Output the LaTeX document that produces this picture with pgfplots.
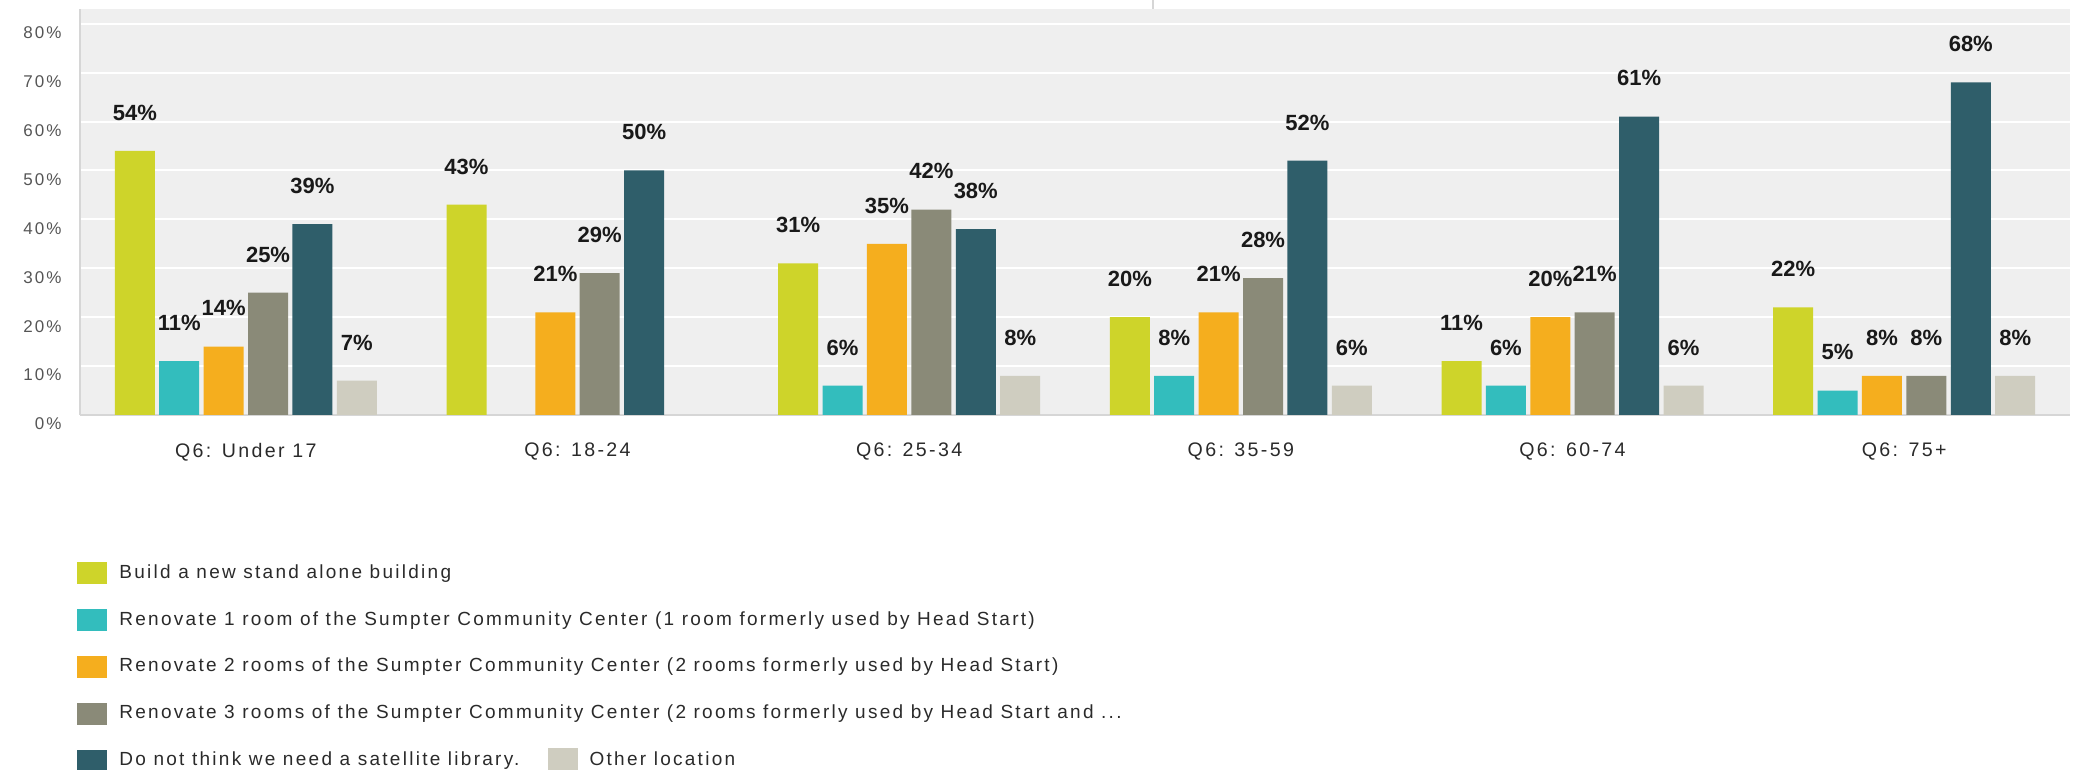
\documentclass[border=0pt]{standalone}
\usepackage{pgfplots}
\pgfplotsset{compat=1.18}
\usepackage{fontspec}
\setmainfont{Liberation Sans}
\newfontfamily\spacedfont[LetterSpace=12]{Liberation Sans}
\definecolor{cyel}{HTML}{CED42A}
\definecolor{cteal}{HTML}{33BDBD}
\definecolor{corange}{HTML}{F5AE1E}
\definecolor{cgray}{HTML}{8A8A78}
\definecolor{cdark}{HTML}{2F5E6A}
\definecolor{cother}{HTML}{CFCDC0}
\definecolor{bgc}{HTML}{EFEFEF}
\definecolor{axc}{HTML}{D6D6D6}
\definecolor{tickc}{HTML}{555555}
\definecolor{txtc}{HTML}{2A2A2A}
\begin{document}
\begin{tikzpicture}
\useasboundingbox (0,0) rectangle (1038pt,-385pt);
\draw[axc, line width=1pt] (576.5pt,0) -- (576.5pt,-4.5pt);
\begin{axis}[
  at={(40pt,-4.5pt)}, anchor=north west,
  scale only axis, width=995pt, height=203pt,
  xmin=-0.5, xmax=5.5, ymin=0, ymax=83,
  ybar=2.2pt, bar width=20pt,
  /pgf/number format/assume math mode=true,
  axis background/.style={fill=bgc},
  axis lines*=left,
  axis line style={draw=axc, line width=1pt},
  ymajorgrids, grid style={white, line width=1pt},
  major tick length=0pt,
  xtick={0,1,2,3,4,5},
  xticklabels={Q6: Under 17, Q6: 18-24, Q6: 25-34, Q6: 35-59, Q6: 60-74, Q6: 75+},
  xticklabel style={anchor=center, inner sep=0pt, yshift=-18.5pt, font=\spacedfont\fontsize{9.8}{11}\selectfont, text=txtc},
  ytick={0,10,20,30,40,50,60,70,80},
  yticklabels={0\%,10\%,20\%,30\%,40\%,50\%,60\%,70\%,80\%},
  yticklabel style={anchor=east, inner sep=0pt, xshift=-9pt, yshift=-4.5pt, font=\spacedfont\fontsize{8.5}{10}\selectfont, text=tickc},
  nodes near coords={\pgfmathprintnumber{\pgfplotspointmeta}\%},
  every node near coord/.append style={font=\bfseries\fontsize{11}{13}\selectfont, text=black!90, anchor=south, inner sep=0pt, yshift=15pt},
  legend cell align=left,
  legend image code/.code={\fill[#1] (0pt,-5.5pt) rectangle (15pt,5.5pt);},
  legend style={at={(0,0)}, anchor=north west, xshift=-1.5pt, yshift=-73.5pt,
    draw=none, fill=none, inner sep=0pt, row sep=12.4pt,
    nodes={inner sep=0pt, text height=7pt, text depth=2pt, font=\spacedfont\fontsize{9.5}{11}\selectfont, text=txtc},
    /tikz/every odd column/.append style={column sep=6pt}},
]
\addplot[fill=cyel, draw=none] coordinates {(0,54) (1,43) (2,31) (3,20) (4,11) (5,22)};
\addlegendentry{Build a new stand alone building}
\addplot[fill=cteal, draw=none] coordinates {(0,11) (2,6) (3,8) (4,6) (5,5)};
\addlegendentry{Renovate 1 room of the Sumpter Community Center (1 room formerly used by Head Start)}
\addplot[fill=corange, draw=none] coordinates {(0,14) (1,21) (2,35) (3,21) (4,20) (5,8)};
\addlegendentry{Renovate 2 rooms of the Sumpter Community Center (2 rooms formerly used by Head Start)}
\addplot[fill=cgray, draw=none] coordinates {(0,25) (1,29) (2,42) (3,28) (4,21) (5,8)};
\addlegendentry{Renovate 3 rooms of the Sumpter Community Center (2 rooms formerly used by Head Start and ...}
\addplot[fill=cdark, draw=none] coordinates {(0,39) (1,50) (2,38) (3,52) (4,61) (5,68)};
\addlegendentry{Do not think we need a satellite library.\hspace{14pt}\textcolor{cother}{\rule[-2.3pt]{15pt}{11pt}}\hspace{6pt}Other location}
\addplot[fill=cother, draw=none] coordinates {(0,7) (2,8) (3,6) (4,6) (5,8)};
\end{axis}
\end{tikzpicture}
\end{document}
